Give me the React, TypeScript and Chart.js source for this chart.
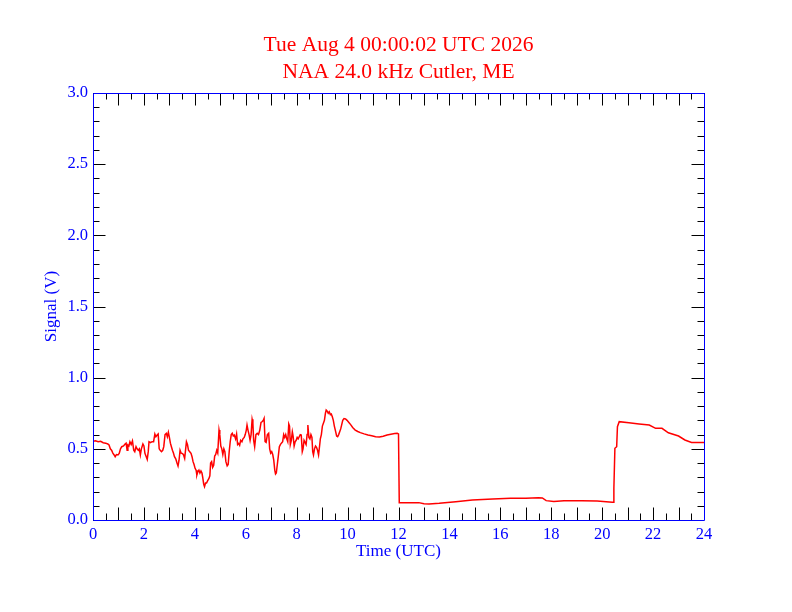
import React, { useEffect, useRef } from "react";
import { Chart, registerables } from "chart.js";

Chart.register(...registerables);

const titleLines = ["Tue Aug 4 00:00:02 UTC 2026", "NAA 24.0 kHz Cutler, ME"];
const xAxisTitle = "Time (UTC)";
const yAxisTitle = "Signal (V)";

const hours = [
  0, 0.1, 0.2, 0.3, 0.4, 0.5, 0.58, 0.63, 0.68, 0.73,
  0.78, 0.83, 0.87, 0.92, 0.98, 1.03, 1.08, 1.13, 1.2, 1.26,
  1.3, 1.34, 1.37, 1.41, 1.45, 1.5, 1.55, 1.6, 1.64, 1.69,
  1.73, 1.78, 1.82, 1.86, 1.9, 1.96, 2.0, 2.04, 2.08, 2.13,
  2.17, 2.2, 2.26, 2.32, 2.38, 2.43, 2.47, 2.52, 2.56, 2.6,
  2.64, 2.69, 2.74, 2.78, 2.83, 2.88, 2.92, 2.96, 3.0, 3.04,
  3.08, 3.12, 3.16, 3.2, 3.25, 3.3, 3.34, 3.38, 3.42, 3.46,
  3.5, 3.55, 3.6, 3.64, 3.67, 3.71, 3.75, 3.8, 3.85, 3.89,
  3.93, 3.97, 4.01, 4.05, 4.08, 4.12, 4.16, 4.2,
  4.24, 4.28, 4.31, 4.35, 4.38, 4.42, 4.46, 4.5, 4.55, 4.59,
  4.62, 4.66, 4.7, 4.74, 4.78, 4.82, 4.86, 4.9, 4.95, 4.98,
  5.02, 5.06, 5.1, 5.14, 5.18, 5.22, 5.27, 5.31, 5.35, 5.39,
  5.43, 5.47, 5.51, 5.55, 5.6, 5.64, 5.68, 5.72, 5.76, 5.8,
  5.85, 5.89, 5.94, 5.98, 6.02, 6.05, 6.09, 6.13, 6.17, 6.21,
  6.25, 6.28, 6.31, 6.35, 6.4, 6.45, 6.5, 6.55, 6.6, 6.64,
  6.69, 6.72, 6.76, 6.8, 6.85, 6.9, 6.94, 6.98, 7.02, 7.06,
  7.1, 7.14, 7.17, 7.2, 7.24, 7.28, 7.32, 7.36, 7.4, 7.45,
  7.49, 7.53, 7.57, 7.61, 7.65, 7.69, 7.72, 7.75, 7.79, 7.83,
  7.86, 7.9, 7.94, 7.98, 8.02, 8.06, 8.1, 8.14, 8.18, 8.22,
  8.25, 8.29,
  8.33, 8.37, 8.41, 8.44, 8.48, 8.52, 8.56, 8.6, 8.63, 8.66,
  8.7, 8.74, 8.78, 8.82, 8.86, 8.9, 8.93, 8.97, 9.01, 9.05,
  9.09, 9.13, 9.16, 9.2, 9.24, 9.28, 9.32, 9.36, 9.4, 9.44,
  9.48, 9.52, 9.57, 9.61, 9.65, 9.69, 9.73, 9.77, 9.81, 9.86,
  9.92, 9.98, 10.05, 10.12, 10.2, 10.3, 10.4, 10.5, 10.65, 10.8,
  10.95, 11.1, 11.25, 11.4, 11.55, 11.7, 11.85, 11.95, 12.0,
  12.03, 12.5, 12.8, 13.0, 13.2, 13.6, 14.25, 14.9, 15.7, 16.4,
  17.0, 17.5, 17.65, 17.8, 18.1, 18.5, 19.2, 19.8, 20.4, 20.43,
  20.46, 20.5, 20.57, 20.6, 20.67, 21.05, 21.45, 21.85, 22.1, 22.35,
  22.6, 23.0, 23.25, 23.51, 23.9, 24.0,
];

const signal = [
  0.553, 0.556, 0.55, 0.553, 0.543, 0.54, 0.534, 0.527, 0.5, 0.49,
  0.47, 0.457, 0.445, 0.46, 0.457, 0.468, 0.5, 0.515, 0.52, 0.534,
  0.54, 0.49, 0.527, 0.52, 0.55, 0.53, 0.555, 0.49, 0.48, 0.515,
  0.5, 0.49, 0.5, 0.457, 0.5, 0.534, 0.52, 0.468, 0.45, 0.426,
  0.48, 0.55, 0.543, 0.55, 0.55, 0.604, 0.585, 0.597, 0.604, 0.5,
  0.49, 0.48, 0.49, 0.515, 0.6, 0.609, 0.585, 0.616, 0.58, 0.54,
  0.515, 0.49, 0.47, 0.445, 0.43, 0.4, 0.379, 0.42, 0.49, 0.47,
  0.468, 0.46, 0.433, 0.5, 0.55, 0.53, 0.49, 0.48, 0.468, 0.445,
  0.41, 0.39, 0.363, 0.35, 0.316, 0.34, 0.35, 0.33,
  0.345, 0.33, 0.3, 0.25, 0.234, 0.26, 0.26, 0.275, 0.29, 0.31,
  0.4, 0.41, 0.37, 0.385, 0.45, 0.46, 0.49, 0.47, 0.632, 0.6,
  0.52, 0.5, 0.46, 0.5, 0.48, 0.41, 0.38, 0.39, 0.48, 0.55,
  0.6, 0.609, 0.59, 0.597, 0.57, 0.604, 0.53, 0.538, 0.525, 0.56,
  0.55, 0.57, 0.58, 0.6, 0.63, 0.667, 0.63, 0.6, 0.56, 0.6,
  0.707, 0.68, 0.56, 0.515, 0.6, 0.609, 0.6, 0.63, 0.685, 0.69,
  0.7, 0.713, 0.55, 0.545, 0.6, 0.609, 0.5, 0.47, 0.48, 0.46,
  0.42, 0.35, 0.323, 0.33, 0.39, 0.45, 0.515, 0.53, 0.54, 0.55,
  0.6, 0.58, 0.6, 0.57, 0.55, 0.675, 0.66, 0.53, 0.56, 0.62,
  0.59, 0.52, 0.55, 0.56, 0.58, 0.57, 0.585, 0.6, 0.597, 0.48,
  0.5, 0.56,
  0.545, 0.53, 0.6, 0.667, 0.58, 0.57, 0.6, 0.58, 0.48, 0.457,
  0.5, 0.52, 0.51, 0.49, 0.457, 0.52, 0.57, 0.6, 0.66, 0.68,
  0.7, 0.75, 0.773, 0.765, 0.75, 0.76, 0.742, 0.745, 0.725, 0.7,
  0.66, 0.63, 0.59, 0.585, 0.6, 0.62, 0.64, 0.67, 0.7, 0.713,
  0.71, 0.7, 0.685, 0.67, 0.65, 0.632, 0.622, 0.614, 0.605, 0.597,
  0.592, 0.585, 0.584, 0.588, 0.597, 0.603, 0.607, 0.609, 0.605,
  0.122, 0.122, 0.122, 0.115, 0.112, 0.117, 0.129, 0.14, 0.147, 0.152,
  0.152, 0.157, 0.155, 0.136, 0.13, 0.136, 0.136, 0.134, 0.124, 0.124,
  0.222, 0.504, 0.515, 0.656, 0.691, 0.683, 0.675, 0.667, 0.644, 0.644,
  0.613, 0.59, 0.562, 0.545, 0.545, 0.545,
];

const xMin = 0;
const xMax = 24;
const xLabelStep = 2;
const xMinorStep = 0.5;
const xMajorStep = 1;
const yMin = 0;
const yMax = 3;
const yLabelStep = 0.5;
const yMinorStep = 0.1;

const RED = "#ff0000";
const BLUE = "#0000ff";
const FONT = '"Liberation Serif", "DejaVu Serif", serif';

const framePlugin = {
  id: "idlFrame",
  afterDraw(chart: any) {
    const { ctx, chartArea: a, scales } = chart;
    const xs = scales.x;
    const ys = scales.y;
    ctx.save();
    ctx.strokeStyle = "#000000";
    ctx.lineWidth = 1;
    ctx.beginPath();
    const nx = Math.round((xMax - xMin) / xMinorStep);
    for (let i = 0; i <= nx; i++) {
      const v = xMin + i * xMinorStep;
      const px = Math.round(xs.getPixelForValue(v)) + 0.5;
      const major = Math.abs(v / xMajorStep - Math.round(v / xMajorStep)) < 1e-6;
      const len = major ? 12.5 : 6.5;
      ctx.moveTo(px, a.bottom);
      ctx.lineTo(px, a.bottom - len);
      ctx.moveTo(px, a.top);
      ctx.lineTo(px, a.top + len);
    }
    const ny = Math.round((yMax - yMin) / yMinorStep);
    for (let i = 0; i <= ny; i++) {
      const v = yMin + i * yMinorStep;
      const py = Math.round(ys.getPixelForValue(v)) + 0.5;
      const major = i % Math.round(yLabelStep / yMinorStep) === 0;
      const len = major ? 12.5 : 6.5;
      ctx.moveTo(a.left, py);
      ctx.lineTo(a.left + len, py);
      ctx.moveTo(a.right, py);
      ctx.lineTo(a.right - len, py);
    }
    ctx.stroke();
    ctx.strokeStyle = BLUE;
    ctx.beginPath();
    ctx.rect(Math.round(a.left) + 0.5, Math.round(a.top) + 0.5, Math.round(a.right - a.left), Math.round(a.bottom - a.top));
    ctx.stroke();

    const cx = (a.left + a.right) / 2;
    ctx.fillStyle = RED;
    ctx.textAlign = "center";
    ctx.textBaseline = "alphabetic";
    ctx.font = `21.5px ${FONT}`;
    ctx.fillText(titleLines[0], cx, 51);
    ctx.fillText(titleLines[1], cx, 78);
    ctx.fillStyle = BLUE;
    ctx.font = `17px ${FONT}`;
    ctx.fillText(xAxisTitle, cx, 556);
    ctx.translate(56, (a.top + a.bottom) / 2);
    ctx.rotate(-Math.PI / 2);
    ctx.fillText(yAxisTitle, 0, 0);
    ctx.restore();
  },
};

export default function App() {
  const ref = useRef<HTMLCanvasElement | null>(null);

  useEffect(() => {
    if (!ref.current) return;
    const points = hours.map((h, i) => ({ x: h, y: signal[i] }));
    const chart = new Chart(ref.current, {
      type: "line",
      data: {
        datasets: [
          {
            data: points,
            borderColor: RED,
            borderWidth: 1.5,
            pointRadius: 0,
            tension: 0,
            fill: false,
          },
        ],
      },
      options: {
        animation: false,
        responsive: false,
        devicePixelRatio: 1,
        layout: { padding: { left: 0, top: 93, right: 88, bottom: 0 } },
        plugins: {
          legend: { display: false },
          title: { display: false },
          tooltip: { enabled: false },
        },
        scales: {
          x: {
            type: "linear",
            min: xMin,
            max: xMax,
            grid: { display: false, drawTicks: false },
            border: { display: false },
            ticks: {
              stepSize: xLabelStep,
              color: BLUE,
              font: { family: FONT, size: 16.5 },
              padding: 5,
              maxRotation: 0,
              autoSkip: false,
            },
            afterFit(scale: any) {
              scale.height = 92;
            },
          },
          y: {
            type: "linear",
            min: yMin,
            max: yMax,
            grid: { display: false, drawTicks: false },
            border: { display: false },
            ticks: {
              stepSize: yLabelStep,
              color: BLUE,
              font: { family: FONT, size: 16.5 },
              padding: 5,
              callback: (v: any) => Number(v).toFixed(1),
            },
            afterFit(scale: any) {
              scale.width = 93;
            },
          },
        },
      },
      plugins: [framePlugin],
    });
    return () => chart.destroy();
  }, []);

  return (
    <div style={{ position: "absolute", left: 0, top: 0, width: 792, height: 612, background: "#ffffff" }}>
      <canvas ref={ref} width={792} height={612} style={{ display: "block", width: 792, height: 612 }} />
    </div>
  );
}
